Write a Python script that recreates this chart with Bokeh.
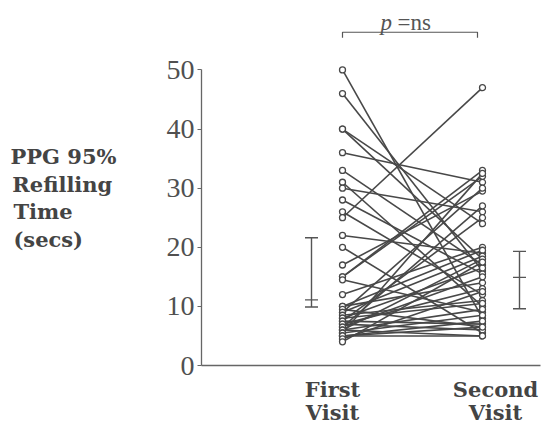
from bokeh.plotting import figure
from bokeh.models import Range1d, FixedTicker, Label, ColumnDataSource
from bokeh.embed import file_html
from bokeh.resources import INLINE

# ---- data ----
first_visit = [50, 46, 40, 40, 36, 33, 31, 30, 28, 26, 25, 22, 20, 17, 15, 15, 14.5, 12,
               10, 10, 9.5, 9, 9, 8.5, 8, 8, 7.5, 7.5, 7, 7, 6.5, 6.5, 6, 6, 6, 5.5, 5.5,
               5, 5, 5, 4.5, 4]
second_visit = [8, 16, 18, 24, 31, 17, 10, 26, 15.5, 12, 47, 19, 5.5, 29.5, 32, 33, 9, 20,
                19.5, 14, 6.5, 18.5, 30, 11, 10.5, 16.5, 7, 25, 6, 13, 15, 27, 9.5, 5, 18,
                8.5, 32.5, 7.5, 6.5, 5, 12.5, 17.5]
# summary bars: (low, middle, high)
first_bar = [9.9, 11.1, 21.6]
second_bar = [9.6, 14.9, 19.3]
y_ticks = [0, 10, 20, 30, 40, 50]
group_labels = ["First\nVisit", "Second\nVisit"]
y_title_lines = ["PPG 95%", "Refilling", "Time", "(secs)"]
p_text = "=ns"

# ---- geometry helpers (canvas pixels -> data) ----
W, H = 541, 428
X_ORIGIN_PX, X_SCALE = 342.0, 140.0     # px of x=0, px per unit
Y_ORIGIN_PX, Y_SCALE = 368.0, 5.96      # px of y=0, px per unit
FRAME_L, FRAME_R, FRAME_T = 201, 540, 2

def dx(px):
    return (px - X_ORIGIN_PX) / X_SCALE

def dy(py):
    return (Y_ORIGIN_PX - py) / Y_SCALE

p = figure(width=W, height=H, output_backend="svg", toolbar_location=None,
           x_range=Range1d(dx(FRAME_L), dx(FRAME_R)),
           y_range=Range1d(0, dy(FRAME_T)),
           min_border_left=FRAME_L, min_border_right=W - FRAME_R,
           min_border_top=FRAME_T, min_border_bottom=H - int(Y_ORIGIN_PX))
p.outline_line_color = None
p.xgrid.visible = False
p.ygrid.visible = False
p.background_fill_color = "white"
p.border_fill_color = "white"

# x axis: bare line, category labels as tick labels (block centred on tick, lines left-aligned)
label_pos = [dx(332), dx(495)]
p.xaxis.ticker = FixedTicker(ticks=label_pos)
p.xaxis.major_label_overrides = {label_pos[0]: group_labels[0], label_pos[1]: group_labels[1]}
p.xaxis.major_tick_line_color = None
p.xaxis.minor_tick_line_color = None
p.xaxis.major_tick_in = 0
p.xaxis.major_tick_out = 0
p.xaxis.major_label_text_font = "DejaVu Serif"
p.xaxis.major_label_text_font_style = "bold"
p.xaxis.major_label_text_font_size = "21px"
p.xaxis.major_label_text_line_height = 0.95
p.xaxis.major_label_text_color = "#444444"
p.xaxis.major_label_text_align = "left"
p.xaxis.major_label_standoff = 11
p.xaxis.axis_line_color = "#666666"
p.xaxis.axis_line_width = 1.3

# y axis
p.yaxis.ticker = FixedTicker(ticks=y_ticks)
p.yaxis.bounds = (0, 50)
p.yaxis.minor_tick_line_color = None
p.yaxis.major_tick_in = 0
p.yaxis.major_tick_out = 4
p.yaxis.major_tick_line_color = "#666666"
p.yaxis.axis_line_color = "#666666"
p.yaxis.axis_line_width = 1.3
p.yaxis.major_label_text_font = "Liberation Serif"
p.yaxis.major_label_text_font_size = "28px"
p.yaxis.major_label_text_color = "#505050"
p.yaxis.major_label_standoff = 3

# y title: pad lines with no-break / thin spaces so right-aligned block reads left-aligned
NB, TH = "\u00a0", "\u2009"
pads = ["", TH, NB * 6, NB * 4 + TH]
p.yaxis.axis_label = "\n" + "\n".join(t + pad for t, pad in zip(y_title_lines, pads))
p.yaxis.axis_label_orientation = "horizontal"
p.yaxis.axis_label_text_font = "DejaVu Serif"
p.yaxis.axis_label_text_font_style = "bold"
p.yaxis.axis_label_text_font_size = "21px"
p.yaxis.axis_label_text_line_height = 1.1
p.yaxis.axis_label_text_color = "#444444"
p.yaxis.axis_label_text_align = "left"
p.yaxis.axis_label_standoff = 47

LINE_COL = "#484848"

# paired lines
src = ColumnDataSource(dict(x0=[0] * len(first_visit), y0=first_visit,
                            x1=[1] * len(second_visit), y1=second_visit))
p.segment(x0="x0", y0="y0", x1="x1", y1="y1", source=src,
          line_color=LINE_COL, line_width=1.6)
p.scatter(x=[0] * len(first_visit), y=first_visit, marker="circle", size=6,
          fill_color="white", line_color=LINE_COL, line_width=1.3)
p.scatter(x=[1] * len(second_visit), y=second_visit, marker="circle", size=6,
          fill_color="white", line_color=LINE_COL, line_width=1.3)

# summary bars
half = 6.5 / X_SCALE
for bx, stats in ((dx(311), first_bar), (dx(519), second_bar)):
    lo, mid, hi = stats
    p.segment(x0=[bx], y0=[lo], x1=[bx], y1=[hi], line_color="#555555", line_width=1.4)
    p.segment(x0=[bx - half] * 3, y0=stats, x1=[bx + half] * 3, y1=stats,
              line_color="#555555", line_width=1.4)

# bracket
yb = dy(32)
yt = dy(37.5)
p.line(x=[0, 0, dx(477), dx(477)], y=[yt, yb, yb, yt], line_color="#555555", line_width=1.2)

p.add_layout(Label(x=dx(380), y=dy(22), text="p", text_font="Liberation Serif",
                   text_font_style="italic", text_font_size="23px", text_color="#555555",
                   text_baseline="alphabetic"))
p.add_layout(Label(x=dx(397), y=dy(22), text=p_text, text_font="Liberation Serif",
                   text_font_size="23px", text_color="#555555", text_baseline="alphabetic"))

open("out.html", "w").write(file_html(p, INLINE))
